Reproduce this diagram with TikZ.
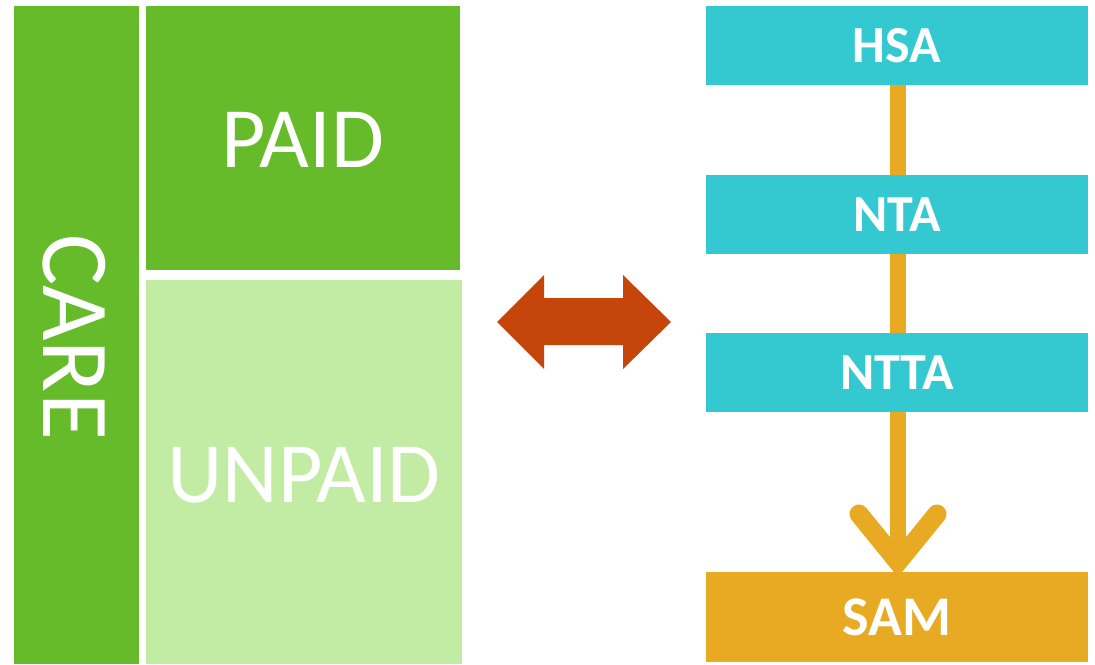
\documentclass[tikz,border=0pt]{standalone}
\usepackage{fontspec}
\setmainfont{Carlito}
\definecolor{grn}{HTML}{66BB2A}
\definecolor{lgrn}{HTML}{C2EBA4}
\definecolor{teal}{HTML}{34C8D0}
\definecolor{gold}{HTML}{E8A923}
\definecolor{rust}{HTML}{C5450A}
\begin{document}
\begin{tikzpicture}[x=1pt,y=-1pt,
  blk/.style={inner sep=0pt, text=white},
  tbox/.style={fill=teal, minimum width=382pt, minimum height=79pt, inner sep=0pt, text=white, font=\fontsize{52}{52}\selectfont\bfseries},
  conn/.style={draw=gold, line width=16pt}]
\useasboundingbox (0,0) rectangle (1095,664);
% left blocks
\fill[grn] (14,6) rectangle (139,664);
\node[blk, rotate=-90, font=\fontsize{96}{96}\selectfont] (care) at (74,337) {CARE};
\fill[grn] (146,6) rectangle (460,270);
\node[blk, font=\fontsize{86}{86}\selectfont] (paid) at (303,140) {PAID};
\fill[lgrn] (146,280) rectangle (462,664);
\node[blk, font=\fontsize{86}{86}\selectfont] (unpaid) at (304,475) {UNPAID};
% double arrow
\fill[rust] (497,322) -- (544,275) -- (544,298) -- (623,298) -- (623,275) -- (671,322)
  -- (623,369) -- (623,345) -- (544,345) -- (544,369) -- cycle;
% right chain
\node[tbox] (hsa) at (897,45.5) {HSA};
\node[tbox] (nta) at (897,214.5) {NTA};
\node[tbox] (ntta) at (897,372.5) {NTTA};
\node[fill=gold, minimum width=382pt, minimum height=90pt, inner sep=0pt, text=white, font=\fontsize{56}{56}\selectfont\bfseries] (sam) at (897,617) {SAM};
\coordinate (tip) at (898,562);
\draw[conn] (hsa.south -| tip) -- (nta.north -| tip);
\draw[conn] (nta.south -| tip) -- (ntta.north -| tip);
\draw[conn] (ntta.south -| tip) -- (tip);
\draw[conn, line width=19pt, line cap=round, line join=miter] ([shift={(-39,-48)}]tip) -- (tip) -- ([shift={(39,-48)}]tip);
\end{tikzpicture}
\end{document}
